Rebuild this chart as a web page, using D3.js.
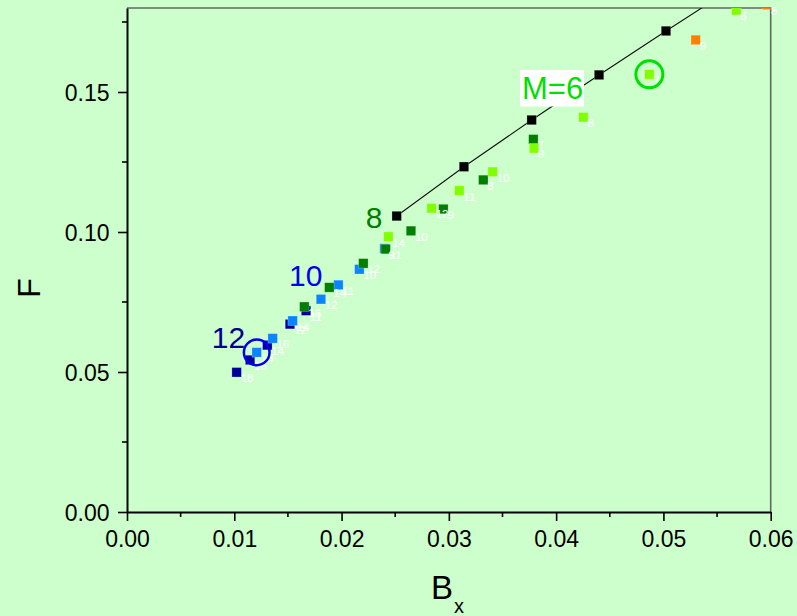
<!DOCTYPE html>
<html>
<head>
<meta charset="utf-8">
<script src="https://cdn.jsdelivr.net/npm/d3@7"></script>
<style>
  html, body { margin: 0; padding: 0; background: #ccffcc; }
  svg { display: block; font-family: Arial, "Liberation Sans", sans-serif; }
</style>
</head>
<body>
<svg id="chart" width="797" height="616"></svg>
<script>
// Fitted line series (no point labels)
const blackBx = [0.02514, 0.03141, 0.03772, 0.04400, 0.05024, 0.05644];
const blackF  = [0.1057, 0.1233, 0.1400, 0.1561, 0.1718, 0.1871];

// Orange series
const orangeBx = [0.05301, 0.05966];
const orangeF  = [0.1686, 0.1811];
const orangeM  = ["9", "8"];

// Lime series (M = 6 family)
const limeBx = [0.05680, 0.04869, 0.04254, 0.03794, 0.03409, 0.03098, 0.02840, 0.02436];
const limeF  = [0.1792, 0.1563, 0.1410, 0.1299, 0.1215, 0.1148, 0.1085, 0.0983];
const limeM  = ["6", "7", "8", "9", "10", "11", "12", "14"];

// Dark green series (M = 8 family)
const greenBx = [0.03788, 0.03321, 0.02949, 0.02647, 0.02411, 0.02203, 0.01886, 0.01653];
const greenF  = [0.1331, 0.1186, 0.1082, 0.1004, 0.0939, 0.0888, 0.0802, 0.0733];
const greenM  = ["7", "8", "9", "10", "11", "12", "14", "16"];

// Blue series (M = 10 family)
const blueBx = [0.02400, 0.02166, 0.01970, 0.01808, 0.01544, 0.01358, 0.01209];
const blueF  = [0.0941, 0.0867, 0.0811, 0.0760, 0.0683, 0.0620, 0.0570];
const blueM  = ["9", "10", "11", "12", "14", "16", "18"];

// Dark blue series (M = 12 family)
const navyBx = [0.01669, 0.01519, 0.01308, 0.01147, 0.01022];
const navyF  = [0.0719, 0.0671, 0.0596, 0.0543, 0.0499];
const navyM  = ["11", "12", "14", "16", "18"];

// Axis ticks
const xTicks = [0.00, 0.01, 0.02, 0.03, 0.04, 0.05, 0.06];
const yTicks = [0.00, 0.05, 0.10, 0.15];
const xMinor = [0.005, 0.015, 0.025, 0.035, 0.045, 0.055];
const yMinor = [0.025, 0.075, 0.125, 0.175];

// Family annotations: text, anchor Bx, anchor F
const annoText = ["M=6", "8", "10", "12"];
const annoBx   = [0.03682, 0.02225, 0.01510, 0.00790];
const annoF    = [0.1475, 0.1013, 0.0808, 0.0585];

const svg = d3.select("#chart");
const W = 797, H = 616;
const L = 127, R = 770.7, T = 8, B = 512;

const x = d3.scaleLinear().domain([0, 0.06]).range([L, R]);
const y = d3.scaleLinear().domain([0, 0.18]).range([B, T]);

svg.append("rect").attr("width", W).attr("height", H).attr("fill", "#ccffcc");

svg.append("defs").append("clipPath").attr("id", "plotclip")
  .append("rect").attr("x", L).attr("y", T).attr("width", R - L).attr("height", B - T);

// Frame on top and right
svg.append("path")
  .attr("d", `M${L},${T}H${R}V${B}`)
  .attr("fill", "none").attr("stroke", "#5f6a5f").attr("stroke-width", 1.6);

const plot = svg.append("g").attr("clip-path", "url(#plotclip)");

// Fitted line through black points
const line = d3.line().x(d => x(d[0])).y(d => y(d[1]));
plot.append("path")
  .datum(d3.zip(blackBx, blackF))
  .attr("d", line)
  .attr("fill", "none").attr("stroke", "#111").attr("stroke-width", 1.1);

const S = 9.5;
function squares(bx, f, color) {
  plot.append("g").selectAll("rect")
    .data(d3.zip(bx, f))
    .join("rect")
    .attr("x", d => x(d[0]) - S / 2)
    .attr("y", d => y(d[1]) - S / 2)
    .attr("width", S).attr("height", S)
    .attr("fill", color)
    .attr("stroke", "rgba(255,255,255,0.3)")
    .attr("stroke-width", 0.8);
}

squares(navyBx, navyF, "#000099");
squares(blueBx, blueF, "#0a84ff");
squares(greenBx, greenF, "#007f00");
squares(limeBx, limeF, "#80ff00");
squares(orangeBx, orangeF, "#ff8000");
squares(blackBx, blackF, "#000000");

// Small white M labels beside each point
const labels = svg.append("g")
  .attr("fill", "#ffffff").attr("font-size", 11.5);
function pointLabels(bx, f, m) {
  labels.append("g").selectAll("text")
    .data(d3.zip(bx, f, m))
    .join("text")
    .attr("x", d => x(d[0]) + 4)
    .attr("y", d => y(d[1]) + 10)
    .text(d => d[2]);
}
pointLabels(navyBx, navyF, navyM);
pointLabels(blueBx, blueF, blueM);
pointLabels(greenBx, greenF, greenM);
pointLabels(limeBx, limeF, limeM);
pointLabels(orangeBx, orangeF, orangeM);

// Rings highlighting one point of two families
svg.append("circle")
  .attr("cx", x(limeBx[1])).attr("cy", y(limeF[1])).attr("r", 13.5)
  .attr("fill", "none").attr("stroke", "#00e000").attr("stroke-width", 3);
svg.append("circle")
  .attr("cx", x(blueBx[6])).attr("cy", y(blueF[6])).attr("r", 12.8)
  .attr("fill", "none").attr("stroke", "#0000ee").attr("stroke-width", 2.5);

// Family annotations
const annoColor = ["#00e000", "#008000", "#0000ee", "#000090"];
const annoSize  = [31, 30, 30, 30];
// white backing box behind the first annotation
svg.append("rect")
  .attr("x", x(annoBx[0]) - 2).attr("y", y(annoF[0]) - 29)
  .attr("width", 64).attr("height", 36.5)
  .attr("fill", "#ffffff");
svg.append("g").selectAll("text")
  .data(d3.range(annoText.length))
  .join("text")
  .attr("x", i => x(annoBx[i]))
  .attr("y", i => y(annoF[i]))
  .attr("fill", i => annoColor[i])
  .attr("font-size", i => annoSize[i])
  .text(i => annoText[i]);

// Axes
const fmt = d3.format(".2f");
const xAxis = svg.append("g").attr("transform", `translate(0,${B})`)
  .call(d3.axisBottom(x).tickValues(xTicks).tickFormat(fmt).tickSize(9).tickSizeOuter(0).tickPadding(9.5));
const yAxis = svg.append("g").attr("transform", `translate(${L},0)`)
  .call(d3.axisLeft(y).tickValues(yTicks).tickFormat(fmt).tickSize(9).tickSizeOuter(0).tickPadding(8.5));

[xAxis, yAxis].forEach(g => {
  g.select(".domain").attr("stroke", "#000").attr("stroke-width", 2);
  g.selectAll(".tick line").attr("stroke", "#000").attr("stroke-width", 1.6);
  g.selectAll(".tick text").attr("fill", "#000").attr("font-size", 23)
    .attr("font-family", 'Arial, "Liberation Sans", sans-serif');
});
yAxis.selectAll(".tick text").attr("dy", "0.36em");

// Minor ticks
xAxis.append("g").selectAll("line").data(xMinor).join("line")
  .attr("x1", d => x(d)).attr("x2", d => x(d))
  .attr("y1", 0).attr("y2", 5)
  .attr("stroke", "#000").attr("stroke-width", 1.6);
yAxis.append("g").selectAll("line").data(yMinor).join("line")
  .attr("y1", d => y(d)).attr("y2", d => y(d))
  .attr("x1", 0).attr("x2", -5)
  .attr("stroke", "#000").attr("stroke-width", 1.6);

// Axis titles
svg.append("text")
  .attr("transform", `translate(40,${(T + B) / 2 + 28}) rotate(-90)`)
  .attr("text-anchor", "middle")
  .attr("font-size", 32).attr("fill", "#000")
  .text("F");

const bt = svg.append("text")
  .attr("x", 431).attr("y", 599)
  .attr("font-size", 33).attr("fill", "#000");
bt.append("tspan").text("B");
bt.append("tspan").attr("font-size", 20).attr("dy", 14).attr("dx", 1).text("x");
</script>
</body>
</html>
